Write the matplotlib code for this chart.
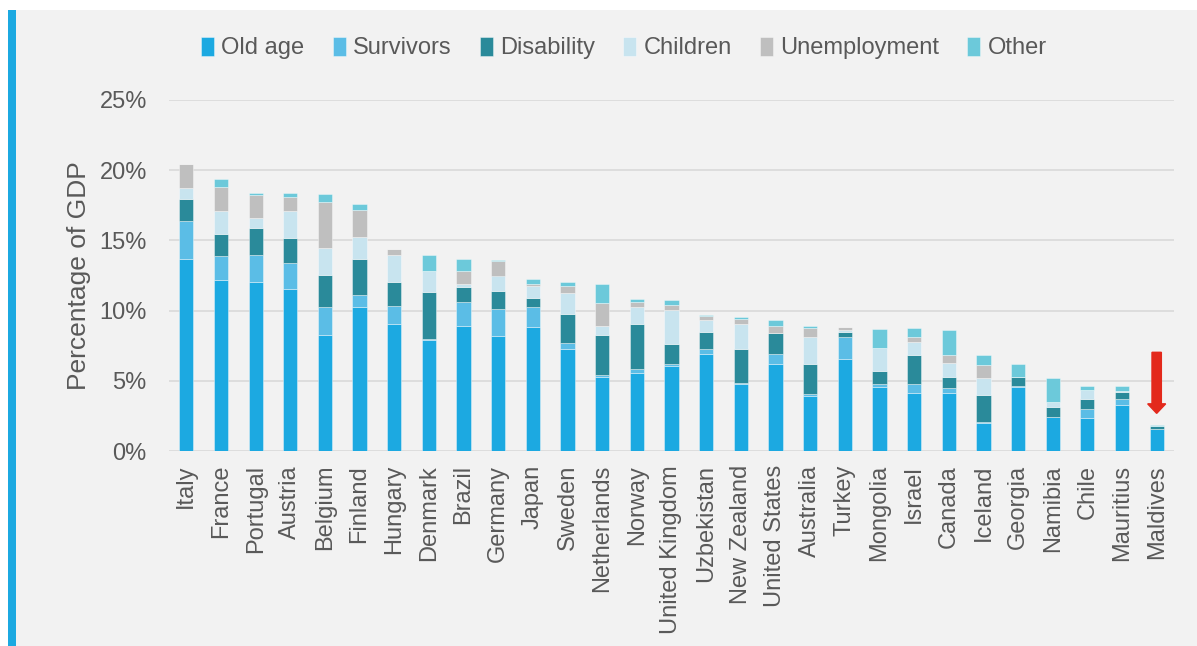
import numpy as np
import matplotlib
matplotlib.use("Agg")
import matplotlib.pyplot as plt
from matplotlib.patches import Rectangle, FancyArrow

plt.rcParams['font.family'] = ['Liberation Sans', 'DejaVu Sans']

countries = ["Italy", "France", "Portugal", "Austria", "Belgium", "Finland", "Hungary",
             "Denmark", "Brazil", "Germany", "Japan", "Sweden", "Netherlands", "Norway",
             "United Kingdom", "Uzbekistan", "New Zealand", "United States", "Australia",
             "Turkey", "Mongolia", "Israel", "Canada", "Iceland", "Georgia", "Namibia",
             "Chile", "Mauritius", "Maldives"]

# spending by function, % of GDP
old_age = [13.70, 12.17, 12.03, 11.53, 8.25, 10.26, 9.01, 7.94, 8.89, 8.18, 8.82, 7.27, 5.27, 5.56,
           6.06, 6.91, 4.76, 6.20, 3.92, 6.54, 4.56, 4.11, 4.11, 1.98, 4.56, 2.42, 2.35, 3.26, 1.57]
survivors = [2.67, 1.71, 1.92, 1.85, 1.99, 0.86, 1.30, 0.05, 1.69, 1.92, 1.42, 0.43, 0.14, 0.26,
             0.12, 0.39, 0.05, 0.74, 0.17, 1.61, 0.21, 0.69, 0.36, 0.05, 0.05, 0.00, 0.64, 0.43, 0.00]
disability = [1.55, 1.61, 1.92, 1.80, 2.33, 2.59, 1.71, 3.37, 1.11, 1.28, 0.64, 2.09, 2.83, 3.19,
              1.47, 1.21, 2.47, 1.43, 2.09, 0.31, 0.95, 2.02, 0.80, 1.97, 0.66, 0.71, 0.71, 0.50, 0.19]
children = [0.80, 1.59, 0.71, 1.90, 1.88, 1.52, 1.92, 1.45, 0.24, 1.12, 0.86, 1.47, 0.69, 1.23,
            2.42, 0.83, 1.76, 0.07, 1.92, 0.19, 1.64, 0.93, 0.98, 1.19, 0.00, 0.36, 0.66, 0.07, 0.04]
unemployment = [1.75, 1.69, 1.66, 1.02, 3.26, 1.97, 0.45, 0.00, 0.88, 1.02, 0.19, 0.48, 1.59, 0.36,
                0.31, 0.28, 0.38, 0.45, 0.64, 0.19, 0.00, 0.36, 0.57, 0.93, 0.00, 0.00, 0.00, 0.00, 0.00]
other = [0.00, 0.57, 0.16, 0.26, 0.59, 0.40, 0.00, 1.12, 0.90, 0.10, 0.33, 0.28, 1.35, 0.24,
         0.40, 0.10, 0.10, 0.43, 0.19, 0.00, 1.30, 0.62, 1.78, 0.69, 0.93, 1.69, 0.24, 0.36, 0.03]

series = [("Old age", old_age, "#1CA9E1"),
          ("Survivors", survivors, "#5BBDE6"),
          ("Disability", disability, "#2A8A9A"),
          ("Children", children, "#C8E4EF"),
          ("Unemployment", unemployment, "#BFBFBF"),
          ("Other", other, "#6CC9DA")]

text_col = "#595959"
bg = "#F2F2F2"

fig = plt.figure(figsize=(11.97, 6.46), dpi=100, facecolor="white")
# grey panel with a blue strip on the left, kept behind the axes
fig.patches.append(Rectangle((8 / 1197, 0), 1, 1 - 10 / 646, transform=fig.transFigure,
                             facecolor=bg, edgecolor="none", zorder=-10))
fig.patches.append(Rectangle((8 / 1197, 0), 8 / 1197, 1 - 10 / 646, transform=fig.transFigure,
                             facecolor="#1CA9E1", edgecolor="none", zorder=-9))

ax = fig.add_axes([169 / 1197, 1 - 451 / 646, (1174 - 169) / 1197, 351 / 646])
ax.set_facecolor("none")

x = np.arange(len(countries))
bottom = np.zeros(len(countries))
for name, vals, col in series:
    vals = np.array(vals)
    ax.bar(x, vals, 0.41, bottom=bottom, color=col, label=name,
           edgecolor=(1, 1, 1, 0.45), linewidth=0.6, zorder=3)
    bottom += vals

ax.set_xlim(-0.5, len(countries) - 0.5)
ax.set_ylim(0, 25)
ax.set_yticks(np.arange(0, 26, 5))
ax.set_yticklabels([f"{v}%" for v in range(0, 26, 5)])
ax.yaxis.grid(True, color="#D9D9D9", linewidth=1.2, zorder=0)
ax.set_axisbelow(True)
for s in ax.spines.values():
    s.set_visible(False)
ax.tick_params(axis="both", length=0, labelsize=17, colors=text_col)
ax.tick_params(axis="y", pad=16)
ax.tick_params(axis="x", pad=10)
ax.set_xticks(x)
ax.set_xticklabels(countries, rotation=90)
ax.set_ylabel("Percentage of GDP", fontsize=19, color=text_col, labelpad=6)

# arrow pointing at the last bar
tip = bottom[-1] + 0.85
ax.add_patch(FancyArrow(x[-1], tip + 4.35, 0, -4.35, width=0.27, head_width=0.52,
                        head_length=0.68, length_includes_head=True,
                        color="#E3291C", zorder=4))

fig.legend(loc="center", bbox_to_anchor=(624 / 1197, 1 - 48 / 646), ncol=6, frameon=False,
           fontsize=17, handlelength=0.55, handleheight=0.9, handletextpad=0.3,
           columnspacing=1.2, labelcolor=text_col)

fig.savefig("out.png", dpi=100, facecolor=fig.get_facecolor())
